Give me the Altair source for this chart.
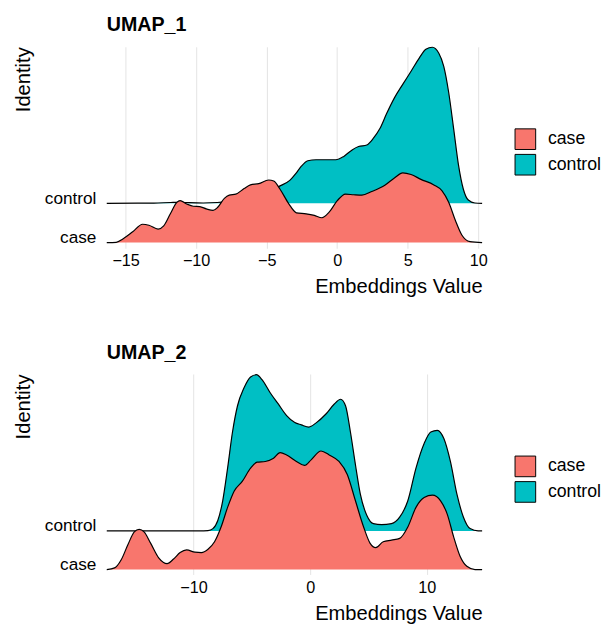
import altair as alt
import pandas as pd

GROUPS = ["case", "control"]
COLORS = ["#F8766D", "#00BFC4"]
FONT = "Liberation Sans"

# ---- UMAP_1 (heights in units of ridge spacing) ----
case1_x = [-16.34, -15.67, -15.2, -14.5, -13.8, -13.35, -12.7, -12.3, -11.83, -11.37,
           -11.14, -10.67, -10.2, -9.74, -9.28, -8.8, -8.47, -8.0, -7.65, -7.19,
           -6.6, -6.15, -5.56, -4.86, -4.5, -4.05, -3.45, -2.89, -2.2, -1.62,
           -1.08, -0.57, 0.01, 0.59, 1.17, 1.76, 2.45, 3.38, 4.08, 4.65,
           5.24, 5.94, 6.86, 7.44, 7.91, 8.38, 8.84, 9.42, 10.28]
case1_h = [0, 0.008, 0.093, 0.275, 0.468, 0.443, 0.343, 0.425, 0.733, 1.025,
           1.068, 0.983, 0.925, 0.915, 0.858, 0.818, 0.9, 1.125, 1.208, 1.233,
           1.375, 1.468, 1.5, 1.593, 1.568, 1.358, 1.0, 0.758, 0.733, 0.693,
           0.633, 0.775, 1.068, 1.233, 1.218, 1.208, 1.3, 1.458, 1.65, 1.775,
           1.733, 1.608, 1.468, 1.318, 1.025, 0.568, 0.193, 0.025, 0]
ctrl1_x = [-16.34, -13.0, -11.8, -11.2, -10.5, -9.5, -8.5, -7.5, -6.5, -5.5,
           -4.6, -4.05, -3.36, -2.89, -2.54, -2.08, -1.5, -0.8, -0.1, 0.47,
           1.06, 1.52, 2.1, 2.56, 3.03, 3.5, 4.08, 4.65, 5.24, 5.82,
           6.29, 6.75, 7.21, 7.56, 7.91, 8.26, 8.6, 8.95, 9.3, 9.77, 10.28]
ctrl1_h = [0, 0.005, 0.02, 0.025, 0.015, 0.008, 0.02, 0.063, 0.138, 0.238,
           0.35, 0.443, 0.583, 0.775, 0.943, 1.083, 1.108, 1.108, 1.108, 1.193,
           1.358, 1.443, 1.483, 1.65, 1.9, 2.275, 2.693, 3.025, 3.358, 3.693,
           3.918, 3.968, 3.818, 3.483, 2.818, 1.9, 0.983, 0.358, 0.083, 0.008, 0]

# ---- UMAP_2 ----
case2_x = [-17.44, -16.77, -16.2, -15.64, -15.08, -14.66, -14.24, -13.67, -12.97, -12.27,
           -11.71, -11.15, -10.59, -9.88, -9.33, -8.76, -8.2, -7.64, -7.08, -6.51,
           -5.81, -5.11, -4.55, -3.85, -3.14, -2.58, -2.02, -1.18, -0.48, 0.08,
           0.93, 1.63, 2.47, 3.18, 3.88, 4.58, 5.14, 5.62, 6.26, 6.97,
           7.67, 8.37, 9.07, 9.77, 10.48, 11.18, 11.74, 12.3, 12.86, 13.43, 14.13, 14.74]
case2_h = [0, 0.043, 0.254, 0.636, 0.975, 1.043, 0.975, 0.679, 0.298, 0.153,
           0.272, 0.44, 0.509, 0.45, 0.44, 0.527, 0.72, 1.102, 1.611, 2.036,
           2.29, 2.628, 2.781, 2.799, 2.883, 3.028, 2.969, 2.799, 2.697, 2.842,
           3.071, 2.969, 2.799, 2.461, 1.781, 1.102, 0.679, 0.567, 0.72, 0.763,
           0.807, 1.102, 1.611, 1.865, 1.926, 1.781, 1.443, 0.847, 0.338, 0.084, 0, 0]
ctrl2_x = [-17.44, -9.5, -8.76, -8.34, -7.92, -7.5, -7.08, -6.66, -6.23, -5.67,
           -5.11, -4.61, -4.13, -3.43, -2.72, -2.02, -1.32, -0.76, -0.11, 0.51,
           1.35, 2.05, 2.61, 3.03, 3.45, 3.88, 4.3, 4.86, 5.42, 6.12,
           6.97, 7.67, 8.37, 9.07, 9.77, 10.34, 10.9, 11.46, 12.02, 12.58,
           13.14, 13.71, 14.4, 14.74]
ctrl2_h = [0, 0, 0.008, 0.061, 0.272, 0.781, 1.628, 2.562, 3.242, 3.707,
           3.987, 4.046, 3.919, 3.58, 3.282, 2.987, 2.807, 2.748, 2.69, 2.799,
           3.028, 3.282, 3.41, 3.242, 2.562, 1.715, 0.952, 0.399, 0.188, 0.163,
           0.188, 0.356, 0.781, 1.628, 2.265, 2.562, 2.606, 2.392, 1.799, 0.952,
           0.356, 0.061, 0, 0]

ticks1 = [-15, -10, -5, 0, 5, 10]
ticks2 = [-10, 0, 10]


def ridge(xs, hs, group, base):
    return pd.DataFrame({"x": xs, "top": [base + h for h in hs],
                         "base": [base] * len(xs), "group": [group] * len(xs)})


def panel(title, cx, ch, kx, kh, xdom, ydom, ticks, height):
    df = pd.concat([ridge(kx, kh, "control", 1), ridge(cx, ch, "case", 0)],
                   ignore_index=True)
    xenc = alt.X("x:Q", scale=alt.Scale(domain=xdom, nice=False, zero=False),
                 axis=alt.Axis(values=ticks, title="Embeddings Value",
                               titleAnchor="end", grid=True, domain=False,
                               ticks=False, labelFontSize=16.5, titleFontSize=20.5,
                               labelPadding=5, titlePadding=8,
                               titleFontWeight="normal"))
    yenc = alt.Y("top:Q", scale=alt.Scale(domain=ydom, nice=False, zero=False),
                 axis=alt.Axis(values=[0, 1], grid=False, domain=False, ticks=False,
                               labelExpr="datum.value == 0 ? 'case' : 'control'",
                               labelBaseline="alphabetic", labelFontSize=17.5,
                               labelPadding=11, title="Identity",
                               titleAnchor="end", titleFontSize=20.5,
                               titlePadding=11, titleFontWeight="normal"))
    color = alt.Color("group:N", scale=alt.Scale(domain=GROUPS, range=COLORS),
                      legend=alt.Legend(title=None, orient="none", legendX=415,
                                        legendY=83, symbolType="square",
                                        symbolSize=441, symbolStrokeColor="black",
                                        symbolStrokeWidth=1, symbolOpacity=1,
                                        labelFontSize=18, labelOffset=12,
                                        rowPadding=0, padding=0))
    layers = []
    for g in ["control", "case"]:
        sub = alt.Chart(df).transform_filter(alt.datum.group == g)
        layers.append(sub.mark_area(interpolate="monotone", opacity=1).encode(
            x=xenc, y=yenc, y2="base:Q", color=color))
        layers.append(sub.mark_line(interpolate="monotone", color="black",
                                    strokeWidth=1.2).encode(x=xenc, y=yenc))
    return alt.layer(*layers).properties(
        width=382, height=height,
        title=alt.TitleParams(title, anchor="start", frame="group", fontSize=20,
                              fontWeight="bold", font=FONT, color="black",
                              offset=10))


p1 = panel("UMAP_1", case1_x, case1_h, ctrl1_x, ctrl1_h, [-16.34, 10.28],
           [-0.143, 4.98], ticks1, 205)
p2 = panel("UMAP_2", case2_x, case2_h, ctrl2_x, ctrl2_h, [-17.44, 14.74],
           [-0.127, 5.064], ticks2, 204)

chart = alt.vconcat(p1, p2, spacing=46).resolve_scale(
    color="independent").resolve_legend(color="independent").properties(
    padding={"left": 5.5, "top": 2, "right": 0, "bottom": 0}
).configure_view(stroke=None).configure_axis(
    labelFont=FONT, titleFont=FONT, labelColor="black", titleColor="black",
    gridColor="#E3E3E3", gridWidth=1
).configure_legend(labelFont=FONT, labelColor="black")

chart.save("out.html", embed_options={"renderer": "svg", "actions": False})
